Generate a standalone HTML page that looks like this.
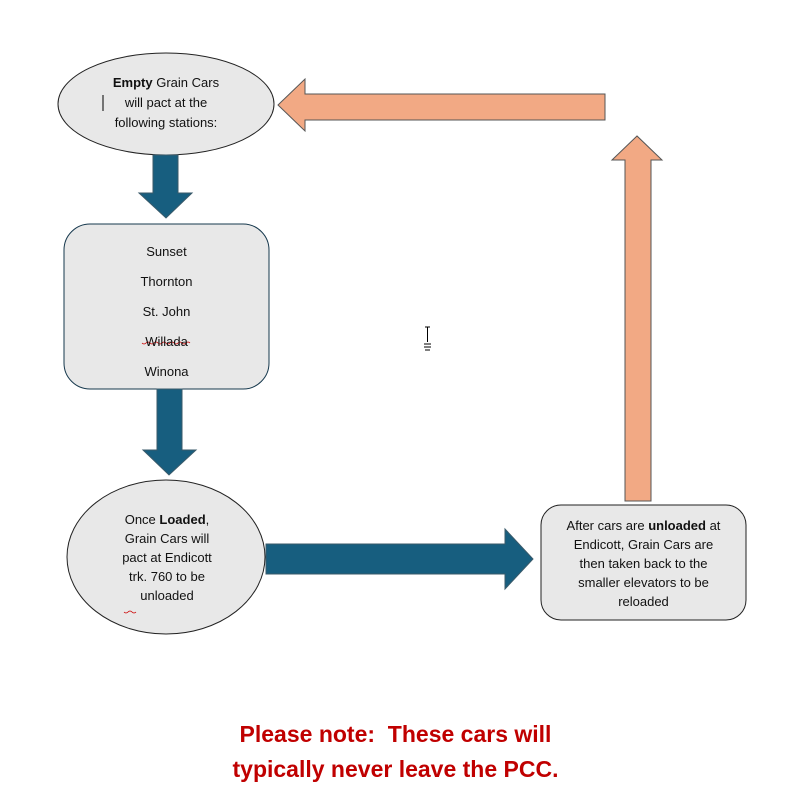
<!DOCTYPE html>
<html><head><meta charset="utf-8"><style>
body{margin:0;background:#fff;width:811px;height:809px;overflow:hidden;position:relative;font-family:"Liberation Sans",sans-serif}
.t{position:absolute;text-align:center;font-size:13px;color:#111;line-height:18px}
.n{position:absolute;left:0;width:811px;text-align:center;color:#C00000;font-weight:bold;font-size:23px}
</style></head><body>
<svg width="811" height="809" style="position:absolute;left:0;top:0">
<ellipse cx="166" cy="104" rx="108" ry="51" fill="#e8e8e8" stroke="#222" stroke-width="1"/>
<polygon points="153,155 178,155 178,193 192,193 166,218 139,193 153,193" fill="#175e7f" stroke="#3a5a6a" stroke-width="1"/>
<rect x="64" y="224" width="205" height="165" rx="26" fill="#e8e8e8" stroke="#16384d" stroke-width="1"/>
<polygon points="157,389 182,389 182,450 196,450 169,475 143,450 157,450" fill="#175e7f" stroke="#3a5a6a" stroke-width="1"/>
<ellipse cx="166" cy="557" rx="99" ry="77" fill="#e8e8e8" stroke="#222" stroke-width="1"/>
<polygon points="266,544 505,544 505,529 533,559 505,589 505,574 266,574" fill="#175e7f" stroke="#3a5a6a" stroke-width="1"/>
<rect x="541" y="505" width="205" height="115" rx="20" fill="#e8e8e8" stroke="#222" stroke-width="1"/>
<polygon points="625,501 651,501 651,160 662,160 637,136 612,160 625,160" fill="#f2a984" stroke="#555" stroke-width="1"/>
<polygon points="605,94 605,120 305,120 305,131 278,105 305,79 305,94" fill="#f2a984" stroke="#555" stroke-width="1"/>
<line x1="103" y1="95" x2="103" y2="111" stroke="#000" stroke-width="1"/>
<g stroke="#000" stroke-width="1"><line x1="425" y1="327" x2="430" y2="327"/><line x1="427.5" y1="327" x2="427.5" y2="342"/><line x1="424" y1="344" x2="431" y2="344"/><line x1="424" y1="347" x2="431" y2="347"/><line x1="425" y1="350" x2="430" y2="350"/></g>
<path d="M142,343 q2,2 4,0 t4,0 t4,0 t4,0 t4,0 t4,0 t4,0 t4,0 t4,0 t4,0 t4,0 t4,0" stroke="#c00" fill="none" stroke-width="0.8"/>
<path d="M124,612 q2,2 4,0 t4,0 t4,0" stroke="#c00" fill="none" stroke-width="0.8"/>
</svg>
<div class="t" style="left:58px;width:216px;top:73px;line-height:20px"><b>Empty</b> Grain Cars<br>will pact at the<br>following stations:</div>
<div class="t" style="left:64px;width:205px;top:237px;line-height:30px">Sunset<br>Thornton<br>St. John<br>Willada<br>Winona</div>
<div class="t" style="left:97px;width:140px;top:510px;line-height:19px">Once <b>Loaded</b>,<br>Grain Cars will<br>pact at Endicott<br>trk. 760 to be<br>unloaded</div>
<div class="t" style="left:541px;width:205px;top:516px;line-height:19px">After cars are <b>unloaded</b> at<br>Endicott, Grain Cars are<br>then taken back to the<br>smaller elevators to be<br>reloaded</div>
<div class="n" style="left:-10px;top:721px">Please note:&nbsp; These cars will</div>
<div class="n" style="left:-10px;top:756px">typically never leave the PCC.</div>
</body></html>
